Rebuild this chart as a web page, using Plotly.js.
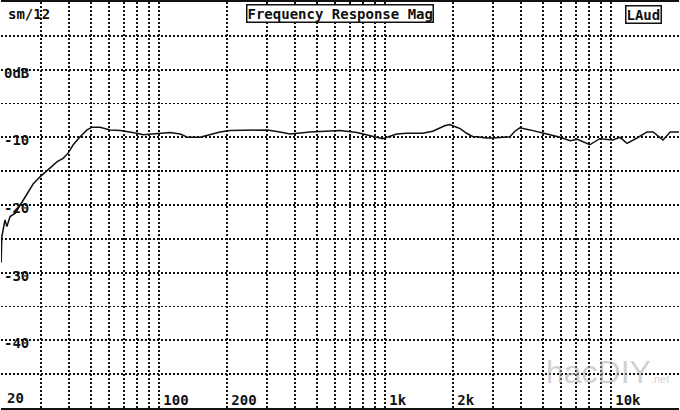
<!DOCTYPE html>
<html>
<head>
<meta charset="utf-8">
<script src="https://cdn.plot.ly/plotly-3.0.1.min.js"></script>
<style>html,body{margin:0;padding:0;background:#fff;}#chart{width:680px;height:410px;}</style>
</head>
<body>
<div id="chart"></div>
<script>
// Frequency (Hz) and magnitude (dB)
const freq = [20, 20.14, 20.8, 21.2, 21.9, 23.1, 24.3, 26.1, 27.7, 29.8, 33.0, 35.4, 37.6, 39.6, 41.7, 44.7, 48.0, 50.5, 54.8,
  60.7, 67.3, 70.7, 79.9, 85.0, 91.3, 101, 112, 124, 134, 152, 168, 186, 206, 253, 301, 343, 380,
  466, 571, 632, 751, 856, 976, 1126, 1246, 1468, 1626, 1836, 1932, 2074, 2150, 2296, 2452, 2542, 2814,
  3002, 3570, 3756, 3952, 4376, 4846, 5206, 5948, 6600, 7100, 8060, 8920, 10200, 10960, 11780, 13040,
  14440, 15360, 17000, 18280, 20000];
const magDb = [-28.5, -24.7, -22.2, -23.2, -21.7, -21.2, -20.0, -18.2, -16.9, -15.8, -14.5, -13.6, -13.1, -12.3, -11.1, -9.9, -8.9, -8.5, -8.5,
  -8.9, -9.0, -9.1, -9.4, -9.6, -9.5, -9.4, -9.3, -9.5, -10.0, -10.0, -9.6, -9.2, -9.0, -9.0, -8.9, -9.2, -9.5,
  -9.2, -9.1, -9.0, -9.3, -9.7, -10.2, -9.5, -9.4, -9.4, -9.1, -8.3, -8.1, -8.5, -8.7, -9.4, -9.9, -9.9, -10.1,
  -10.1, -9.9, -9.1, -8.6, -8.9, -9.2, -9.5, -10.0, -10.5, -10.3, -11.1, -10.2, -10.4, -10.0, -10.9, -10.1,
  -9.2, -9.2, -10.4, -9.2, -9.2];

// Axis grid and labels
const gridFreqs = [20, 30, 40, 50, 60, 70, 80, 90, 100, 200, 300, 400, 500, 600, 700, 800, 900,
  1000, 2000, 3000, 4000, 5000, 6000, 7000, 8000, 9000, 10000];
const xLabelFreqs = [20, 100, 200, 1000, 2000, 10000];
const xLabelTexts = ['20', '100', '200', '1k', '2k', '10k'];
const yGridVals = [5, 0, -5, -10, -15, -20, -25, -30, -35, -40, -45];
const yLabelVals = [0, -10, -20, -30, -40];
const yLabelTexts = ['0dB', '-10', '-20', '-30', '-40'];

// The corner label (first x label) is drawn as an annotation since Plotly hides inside labels at the corner
const xTickText = gridFreqs.map(f => {
  const i = xLabelFreqs.indexOf(f);
  return i > 0 ? xLabelTexts[i] : '';
});
const yTickText = yGridVals.map(v => {
  const i = yLabelVals.indexOf(v);
  return i >= 0 ? yLabelTexts[i] : '';
});

const monoFont = {family: 'DejaVu Sans Mono', size: 14, weight: 'bold', color: '#111'};
const gridStyle = {showgrid: true, gridcolor: '#111', gridwidth: 1.8, griddash: '2px,2px'};

const trace = {
  x: freq, y: magDb, type: 'scatter', mode: 'lines',
  line: {color: '#111', width: 1.5}, hoverinfo: 'skip'
};

const layout = {
  width: 680, height: 410,
  margin: {l: 1, r: 1, t: 2, b: 2},
  paper_bgcolor: '#fff', plot_bgcolor: '#fff',
  showlegend: false,
  xaxis: Object.assign({
    type: 'log', range: [Math.log10(19.97), Math.log10(20000)],
    tickmode: 'array', tickvals: gridFreqs, ticktext: xTickText,
    ticks: '', ticklabelposition: 'inside right', ticklabelshift: 3, ticklabelstandoff: -3,
    tickfont: monoFont, showline: true, mirror: true, linecolor: '#111', linewidth: 2.5,
    zeroline: false, fixedrange: true
  }, gridStyle),
  yaxis: Object.assign({
    range: [-50, 10],
    tickmode: 'array', tickvals: yGridVals, ticktext: yTickText,
    ticks: '', ticklabelposition: 'inside', ticklabelshift: 3,
    tickfont: monoFont, showline: false, zeroline: false, fixedrange: true
  }, gridStyle),
  annotations: [
    {xref: 'x', yref: 'paper', x: Math.log10(xLabelFreqs[0]), y: 0, xanchor: 'left', yanchor: 'bottom',
     xshift: 4, yshift: 0, text: xLabelTexts[0], showarrow: false, font: monoFont},
    {xref: 'paper', yref: 'paper', x: 0.5, y: 1, xanchor: 'center', yanchor: 'top', yshift: -2,
     text: 'Frequency Response Mag', showarrow: false, font: monoFont,
     bordercolor: '#111', borderwidth: 1.5, borderpad: 0, bgcolor: '#fff'},
    {xref: 'paper', yref: 'paper', x: 0, y: 1, xanchor: 'left', yanchor: 'top', xshift: 5, yshift: -2,
     text: 'sm/12', showarrow: false, font: monoFont},
    {xref: 'paper', yref: 'paper', x: 0.947, y: 1, xanchor: 'center', yanchor: 'top', yshift: -3,
     text: 'LAud', showarrow: false, font: monoFont,
     bordercolor: '#111', borderwidth: 1.5, borderpad: 0, bgcolor: '#fff'},
    {xref: 'paper', yref: 'paper', x: 1, y: 0, xanchor: 'right', yanchor: 'bottom', xshift: -8, yshift: 16,
     text: 'hacDIY<span style="font-size:11px">.net</span>', showarrow: false,
     font: {family: 'Liberation Sans', size: 32, color: 'rgba(170,170,170,0.55)'}}
  ]
};

Plotly.newPlot('chart', [trace], layout, {displayModeBar: false, staticPlot: true});
</script>
</body>
</html>
